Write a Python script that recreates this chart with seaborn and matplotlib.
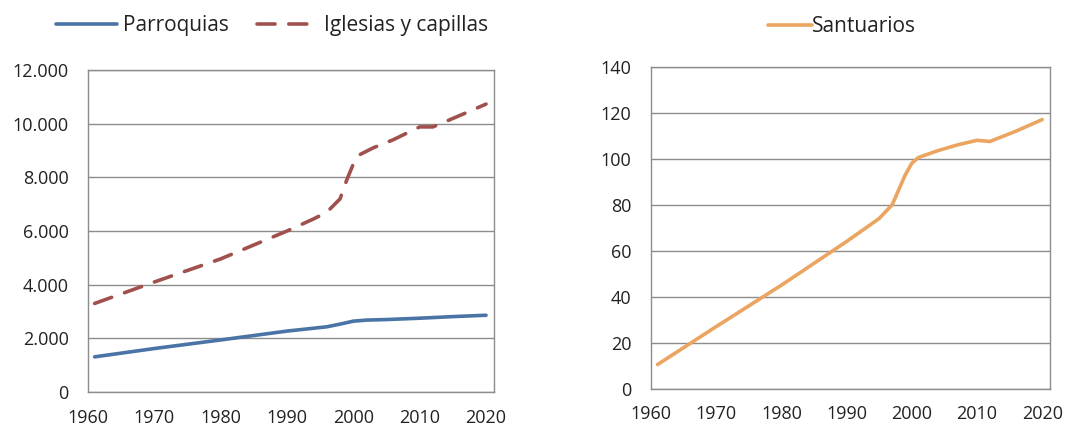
import matplotlib
matplotlib.use("Agg")
import matplotlib.pyplot as plt
from matplotlib.ticker import FuncFormatter, MultipleLocator
import pandas as pd
import seaborn as sns

# Values
parroquias_years = [1961, 1970, 1980, 1990, 1996, 1998, 2000, 2002, 2005, 2010, 2015, 2020]
parroquias = [1310, 1620, 1940, 2270, 2430, 2530, 2640, 2680, 2700, 2750, 2810, 2860]

iglesias_years = [1961, 1970, 1980, 1990, 1994, 1996, 1998, 1999, 2000, 2001, 2003, 2006, 2010, 2012, 2016, 2020]
iglesias = [3300, 4100, 4960, 6000, 6450, 6700, 7200, 7900, 8500, 8850, 9100, 9400, 9880, 9880, 10300, 10730]

santuarios_years = [1961, 1970, 1980, 1990, 1995, 1997, 1999, 2000, 2001, 2004, 2007, 2010, 2012, 2016, 2020]
santuarios = [10.5, 27, 45, 64, 74, 80, 93, 98, 100.5, 103.5, 106, 108, 107.5, 112, 117]

blue = "#4a74a5"
red = "#a0504d"
orange = "#eba560"
grid_grey = "#8c8c8c"

sns.set_theme(style="white")
plt.rcParams["font.family"] = ["Open Sans", "DejaVu Sans"]

fig = plt.figure(figsize=(10.88, 4.28), dpi=100)
W, H = 1088, 428
ax1 = fig.add_axes([88 / W, (H - 392) / H, (494 - 88) / W, (392 - 70) / H])
ax2 = fig.add_axes([651 / W, (H - 388.7) / H, (1050 - 651) / W, (388.7 - 66.7) / H])

df_p = pd.DataFrame({"year": parroquias_years, "value": parroquias})
df_i = pd.DataFrame({"year": iglesias_years, "value": iglesias})
df_s = pd.DataFrame({"year": santuarios_years, "value": santuarios})

sns.lineplot(data=df_p, x="year", y="value", ax=ax1, color=blue, linewidth=2.6,
             label="Parroquias")
sns.lineplot(data=df_i, x="year", y="value", ax=ax1, color=red, linewidth=2.6,
             label="Iglesias y capillas")
ax1.lines[1].set_dashes((5.0, 3.8))
ax1.lines[1].set_dash_capstyle("round")
ax1.lines[0].set_solid_capstyle("round")

sns.lineplot(data=df_s, x="year", y="value", ax=ax2, color=orange, linewidth=2.6,
             label="Santuarios")
ax2.lines[0].set_solid_capstyle("round")

thousands = FuncFormatter(lambda v, p: f"{int(v):,}".replace(",", "."))

for ax, ymax, ystep in [(ax1, 12000, 2000), (ax2, 140, 20)]:
    ax.set_xlim(1960, 2021.2)
    ax.set_ylim(0, ymax)
    ax.xaxis.set_major_locator(MultipleLocator(10))
    ax.yaxis.set_major_locator(MultipleLocator(ystep))
    ax.grid(axis="y", color=grid_grey, linewidth=1)
    ax.grid(axis="x", visible=False)
    for s in ax.spines.values():
        s.set_color(grid_grey)
        s.set_linewidth(1)
    ax.tick_params(axis="both", direction="out", length=5, width=1, color=grid_grey,
                   labelsize=13, labelcolor="#222222")
    ax.tick_params(axis="x", pad=7)
    ax.tick_params(axis="y", pad=9)
    ax.set_xlabel("")
    ax.set_ylabel("")

ax1.yaxis.set_major_formatter(thousands)

leg1 = ax1.legend(loc="center", bbox_to_anchor=(0.453, 1.137), ncol=2, frameon=False,
                  fontsize=15, handlelength=2.9, columnspacing=1.35, handletextpad=0.3)
leg2 = ax2.legend(loc="center", bbox_to_anchor=(0.479, 1.125), frameon=False,
                  fontsize=15, handlelength=2.1, handletextpad=0.0)
for leg in (leg1, leg2):
    for t in leg.get_texts():
        t.set_color("#222222")

fig.savefig("out.png", dpi=100)
